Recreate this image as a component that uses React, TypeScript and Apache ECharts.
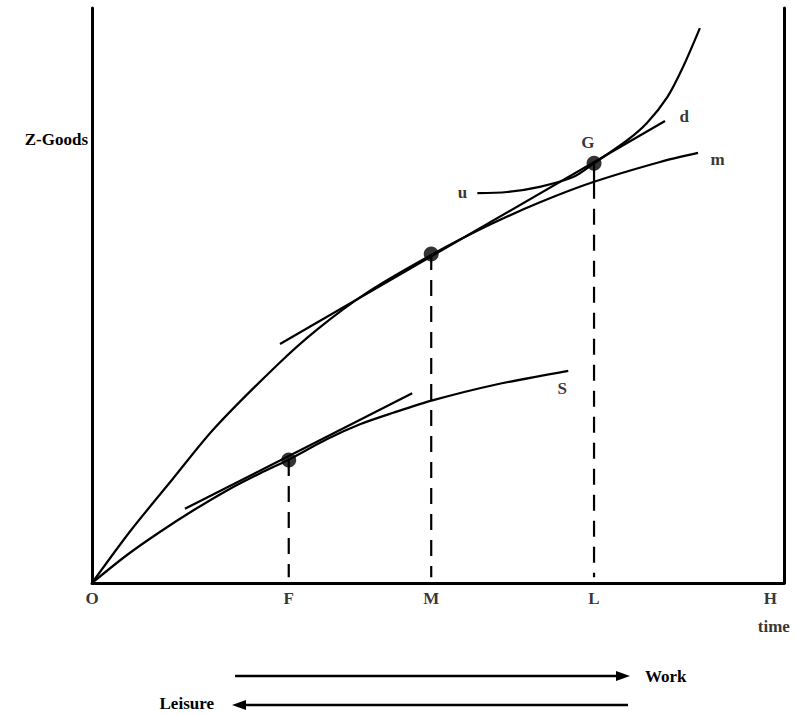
import React, { useEffect, useRef } from 'react';
import * as echarts from 'echarts';

const FONT = "'Liberation Serif', 'DejaVu Serif', serif";

// x-axis tick labels (time axis, H = total time)
const tickNames = ['O', 'F', 'M', 'L', 'H'];
const tickValues = [0, 29, 50, 74, 100];

// m curve (market goods production)
const mCurve = [
  [0, 0], [5.6, 8.96], [11.5, 17.51], [17.98, 26.83], [27.27, 37.88],
  [33.17, 44.07], [40.54, 50.5], [50.27, 57.22], [58.67, 62.33],
  [66.04, 66.21], [74.0, 69.77], [83.73, 73.22], [89.33, 74.8],
];
// S curve
const sCurve = [
  [0, 0], [5.16, 4.87], [10.0, 8.87], [14.9, 12.6], [19.9, 16.1], [24.8, 19.1],
  [28.9, 21.4], [34.6, 25.0], [39.5, 27.6], [44.4, 29.6], [50.3, 31.8],
  [59.1, 34.4], [70.2, 36.9],
];
// u curve (indifference curve)
const uCurve = [
  [56.8, 67.8], [61.2, 68.0], [66.0, 68.9], [70.9, 70.6], [74.0, 73.0],
  [78.9, 77.0], [81.8, 80.0], [84.8, 84.5], [87.1, 89.7], [89.6, 96.5],
];
// d line (tangent through M and G)
const dLine = [[27.71, 41.57], [84.46, 80.35]];
// tangent at F on S
const fTangent = [[13.7, 12.9], [47.2, 33.0]];
// marked points F, M, G
const dots = [[29, 21.4], [50, 57.2], [74, 73.0]];
// vertical drops
const dropF = [[29, 21.4], [29, 1]];
const dropM = [[50, 57.2], [50, 1]];
const dropLSolid = [[74, 73.0], [74, 69.6]];
const dropL = [[74, 69.6], [74, 1]];
// curve labels
const curveLabelNames = ['m', 'S', 'u', 'd', 'G'];
const curveLabelPos = [[92.2, 73.6], [69.3, 33.9], [54.6, 68.0], [87.3, 81.2], [73.1, 76.6]];

export default function App() {
  const ref = useRef<HTMLDivElement>(null);
  useEffect(() => {
    if (!ref.current) return;
    const chart = echarts.init(ref.current, undefined, { renderer: 'svg' });
    const lineBase = (data: number[][], extra: any = {}) => ({
      type: 'line',
      data,
      showSymbol: false,
      symbol: 'none',
      clip: false,
      silent: true,
      lineStyle: { color: '#000', width: 2.2, ...(extra.lineStyle || {}) },
      smooth: extra.smooth ?? false,
      z: 2,
    });
    const textStyle = { color: '#000', fontSize: 17, fontWeight: 'bold', fontFamily: FONT };
    chart.setOption({
      animation: false,
      backgroundColor: '#fff',
      grid: { left: 92, right: 12, top: 8, bottom: 131 },
      xAxis: {
        type: 'value', min: 0, max: 102,
        axisLine: { show: true, lineStyle: { color: '#000', width: 3 } },
        axisTick: { show: false }, axisLabel: { show: false }, splitLine: { show: false },
      },
      yAxis: [
        {
          type: 'value', min: 0, max: 100, position: 'left',
          axisLine: { show: true, lineStyle: { color: '#000', width: 3 } },
          axisTick: { show: false }, axisLabel: { show: false }, splitLine: { show: false },
        },
        {
          type: 'value', min: 0, max: 100, position: 'right',
          axisLine: { show: true, lineStyle: { color: '#000', width: 3 } },
          axisTick: { show: false }, axisLabel: { show: false }, splitLine: { show: false },
        },
      ],
      series: [
        lineBase(mCurve, { smooth: 0.3 }),
        lineBase(sCurve, { smooth: 0.3 }),
        lineBase(uCurve, { smooth: 0.3 }),
        lineBase(dLine),
        lineBase(fTangent),
        lineBase(dropF, { lineStyle: { type: [16, 10] } }),
        lineBase(dropM, { lineStyle: { type: [16, 10] } }),
        lineBase(dropLSolid),
        lineBase(dropL, { lineStyle: { type: [16, 10] } }),
        {
          type: 'scatter', data: dots, symbolSize: 15, silent: true,
          itemStyle: { color: '#000' }, z: 5,
        },
        {
          type: 'scatter', silent: true, symbolSize: 0, z: 6,
          itemStyle: { color: 'rgba(0,0,0,0)' },
          data: curveLabelNames.map((n, i) => ({ name: n, value: curveLabelPos[i] })),
          label: { show: true, position: 'inside', formatter: '{b}', ...textStyle },
        },
        {
          type: 'scatter', silent: true, symbolSize: 0, z: 6, clip: false,
          itemStyle: { color: 'rgba(0,0,0,0)' },
          data: [
            ...tickNames.map((n, i) => ({ name: n, value: [tickValues[i], 0] })),
            { name: 'time', value: [100.5, 0], label: { distance: 35 } },
          ],
          label: { show: true, position: 'bottom', distance: 7, formatter: '{b}', ...textStyle },
        },
      ],
      graphic: [
        { type: 'text', x: 88, y: 139, style: { text: 'Z-Goods', ...textStyle, fill: '#000', align: 'right', verticalAlign: 'middle' } },
        { type: 'line', shape: { x1: 235, y1: 676, x2: 618, y2: 676 }, style: { stroke: '#000', lineWidth: 2.5 } },
        { type: 'polygon', shape: { points: [[616, 671], [630, 676], [616, 681]] }, style: { fill: '#000' } },
        { type: 'text', x: 645, y: 676, style: { text: 'Work', ...textStyle, fill: '#000', align: 'left', verticalAlign: 'middle' } },
        { type: 'line', shape: { x1: 244, y1: 705, x2: 628, y2: 705 }, style: { stroke: '#000', lineWidth: 2.5 } },
        { type: 'polygon', shape: { points: [[246, 700], [232, 705], [246, 710]] }, style: { fill: '#000' } },
        { type: 'text', x: 214, y: 703, style: { text: 'Leisure', ...textStyle, fill: '#000', align: 'right', verticalAlign: 'middle' } },
      ],
    });
    return () => chart.dispose();
  }, []);
  return (
    <div
      ref={ref}
      style={{ position: 'fixed', left: 0, top: 0, width: 796, height: 714, background: '#fff' }}
    />
  );
}
